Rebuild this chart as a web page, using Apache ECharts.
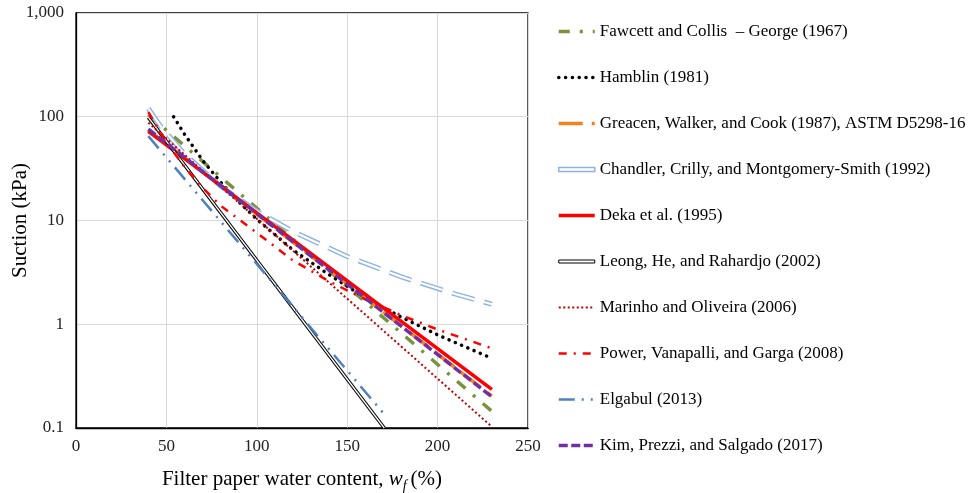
<!DOCTYPE html>
<html>
<head>
<meta charset="utf-8">
<script src="https://cdn.jsdelivr.net/npm/echarts@6/dist/echarts.min.js"></script>
<style>
  html, body { margin: 0; padding: 0; background: #fff; }
  #chart { width: 980px; height: 493px; }
</style>
</head>
<body>
<div id="chart"></div>
<script>
// values (x = filter paper water content %, y = suction kPa)
const fawcettX = [40, 230];
const fawcettY = [105, 0.145];
const hamblinX = [54, 60, 70, 80, 90, 100, 120, 140, 160, 180, 200, 230];
const hamblinY = [100, 68, 38, 23.4, 15.2, 10.3, 5.2, 3.0, 1.8, 1.17, 0.79, 0.47];
const greacenX = [40, 230];
const greacenY = [74.5, 0.203];
const chandlerX = [40, 47, 60, 80, 100, 120, 150, 180, 210, 230];
const chandlerY = [120, 80, 43.7, 21.4, 12.3, 7.83, 4.5, 2.86, 1.95, 1.56];
const dekaX = [40, 230];
const dekaY = [72.3, 0.236];
const leongX = [40, 170.5];
const leongY = [98.4, 0.1];
const marinhoX = [40, 230];
const marinhoY = [87.7, 0.103];
const powerX = [40, 50, 60, 70, 80, 100, 120, 140, 160, 180, 200, 230];
const powerY = [111, 56.8, 32.9, 20.7, 13.9, 7.6, 4.12, 2.59, 1.74, 1.22, 0.89, 0.586];
const elgabulX = [40, 170];
const elgabulY = [65, 0.139];
const kimX = [40, 230];
const kimY = [76, 0.2];

const seriesNames = [
  'Fawcett and Collis  – George (1967)',
  'Hamblin (1981)',
  'Greacen, Walker, and Cook (1987), ASTM D5298-16',
  'Chandler, Crilly, and Montgomery-Smith (1992)',
  'Deka et al. (1995)',
  'Leong, He, and Rahardjo (2002)',
  'Marinho and Oliveira (2006)',
  'Power, Vanapalli, and Garga (2008)',
  'Elgabul (2013)',
  'Kim, Prezzi, and Salgado (2017)'
];
const xTicks = [0, 50, 100, 150, 200, 250];
const yTickLabels = ['0.1', '1', '10', '100', '1,000'];

const font = "'Liberation Serif', 'Times New Roman', serif";

function pts(xs, ys) {
  return xs.map((x, i) => [x, ys[i]]);
}

function line(name, xs, ys, style, z) {
  return {
    name: name,
    type: 'line',
    data: pts(xs, ys),
    symbol: 'none',
    z: z,
    itemStyle: { color: style.color },
    lineStyle: style,
    emphasis: { disabled: true },
    animation: false
  };
}

const series = [
  line(seriesNames[0], fawcettX, fawcettY, { color: '#77933c', width: 3.5, type: [11, 10, 3, 10] }, 2),
  line(seriesNames[1], hamblinX, hamblinY, { color: '#000', width: 3.5, type: [0.1, 6.7], cap: 'round' }, 2),
  line(seriesNames[2], greacenX, greacenY, { color: '#f58220', width: 3.5, type: [24, 9] }, 2),
  line(seriesNames[3], chandlerX, chandlerY, { color: '#8db3e2', width: 5, type: [23, 10] }, 2),
  line('chandlerInner', chandlerX, chandlerY, { color: '#fff', width: 2.2, type: [23, 10] }, 2),
  line(seriesNames[4], dekaX, dekaY, { color: '#ff0000', width: 3.5, type: 'solid' }, 3),
  line(seriesNames[5], leongX, leongY, { color: '#000', width: 3.5, type: 'solid' }, 3),
  line('leongInner', leongX, leongY, { color: '#fff', width: 1.3, type: 'solid' }, 3),
  line(seriesNames[6], marinhoX, marinhoY, { color: '#c00000', width: 2, type: [2, 2.5] }, 3),
  line(seriesNames[7], powerX, powerY, { color: '#ff0000', width: 2.5, type: [8, 7, 2, 7] }, 3),
  line(seriesNames[8], elgabulX, elgabulY, { color: '#4f81bd', width: 2.5, type: [16, 7, 2, 7, 2, 7] }, 3),
  line(seriesNames[9], kimX, kimY, { color: '#7030a0', width: 3.5, type: [9, 3.5] }, 4)
];

// legend entries; the two double-line series get an outlined bar icon
const legendData = seriesNames.map(n => ({ name: n }));
legendData[3] = {
  name: seriesNames[3],
  icon: 'path://M0,0H36V4H0Z',
  itemStyle: { color: '#fff', borderColor: '#8db3e2', borderWidth: 1.5, opacity: 1 }
};
legendData[5] = {
  name: seriesNames[5],
  icon: 'path://M0,0H36V3H0Z',
  itemStyle: { color: '#fff', borderColor: '#000', borderWidth: 1, opacity: 1 }
};

const chart = echarts.init(document.getElementById('chart'));
chart.setOption({
  backgroundColor: '#fff',
  animation: false,
  grid: {
    left: 76, right: 452, top: 13, bottom: 65,
    outerBoundsMode: 'none',
    containLabel: false,
    show: true, borderColor: '#000', borderWidth: 1.3
  },
  legend: {
    data: legendData,
    orient: 'vertical',
    left: 552,
    top: 18,
    padding: 5,
    itemWidth: 36,
    itemHeight: 14,
    itemGap: 29,
    symbolKeepAspect: true,
    selectedMode: false,
    itemStyle: { opacity: 0 },
    lineStyle: { width: 'inherit' },
    textStyle: { fontFamily: font, fontSize: 17, color: '#000', lineHeight: 17 }
  },
  xAxis: {
    type: 'value',
    min: 0, max: 250, interval: 50,
    axisLine: { show: true, lineStyle: { color: '#000', width: 1.3 } },
    axisTick: { show: false },
    splitLine: { show: true, lineStyle: { color: '#d9d9d9', width: 1 } },
    axisLabel: {
      margin: 10, color: '#222', fontFamily: font, fontSize: 17,
      formatter: v => xTicks.indexOf(v) >= 0 ? String(v) : ''
    },
    name: '{n|Filter paper water content, }{w|w}{f|f}{n|(%)}',
    nameLocation: 'middle',
    nameGap: 37,
    nameMoveOverlap: false,
    nameTextStyle: {
      fontFamily: font, fontSize: 21, color: '#000',
      rich: {
        n: { fontFamily: font, fontSize: 21, color: '#000', lineHeight: 28, verticalAlign: 'middle' },
        w: { fontFamily: font, fontSize: 21, fontStyle: 'italic', color: '#000', lineHeight: 28, verticalAlign: 'middle' },
        f: { fontFamily: font, fontSize: 14, fontStyle: 'italic', color: '#000', lineHeight: 28, verticalAlign: 'bottom', padding: [0, 4, 0, 0] }
      }
    }
  },
  yAxis: {
    type: 'log',
    logBase: 10,
    min: 0.1, max: 1000,
    axisLine: { show: true, lineStyle: { color: '#000', width: 1.3 } },
    axisTick: { show: false },
    minorTick: { show: false },
    splitLine: { show: true, lineStyle: { color: '#d9d9d9', width: 1 } },
    axisLabel: {
      margin: 12, color: '#222', fontFamily: font, fontSize: 17,
      formatter: (v, i) => yTickLabels[i] !== undefined ? yTickLabels[i] : ''
    },
    name: 'Suction (kPa)',
    nameLocation: 'middle',
    nameGap: 45,
    nameMoveOverlap: false,
    nameTextStyle: { fontFamily: font, fontSize: 21, color: '#000' }
  },
  series: series
});
</script>
</body>
</html>
